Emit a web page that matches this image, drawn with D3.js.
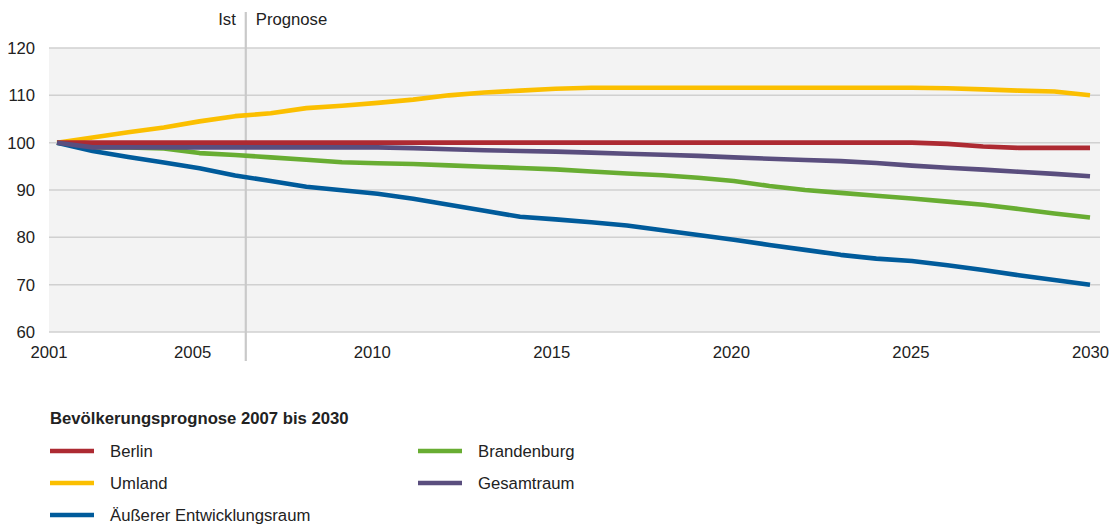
<!DOCTYPE html>
<html>
<head>
<meta charset="utf-8">
<script src="https://cdn.jsdelivr.net/npm/d3@7"></script>
<style>
  html, body { margin: 0; padding: 0; background: #ffffff; }
  svg { display: block; font-family: "Liberation Sans", Arial, sans-serif; }
</style>
</head>
<body>
<svg id="chart" width="1111" height="525"></svg>
<script>
// ---------- data ----------
const years = d3.range(2001, 2031);
const xTickLabels = [2001, 2005, 2010, 2015, 2020, 2025, 2030];
const yTickLabels = [60, 70, 80, 90, 100, 110, 120];
const splitYear = 2006.3; // boundary between "Ist" and "Prognose"

const berlin = [100,100,100,100,100,100,100,100,100,100,100,100,100,100,100,100,100,100,100,100,100,100,100,100,100,99.75,99.2,98.9,98.9,98.9];
const umland = [100,101.1,102.2,103.2,104.5,105.6,106.2,107.3,107.8,108.4,109.1,110.0,110.6,111.0,111.4,111.6,111.6,111.6,111.6,111.6,111.6,111.6,111.6,111.6,111.6,111.5,111.25,111.0,110.8,110.0];
const aeusserer = [100,98.25,96.95,95.8,94.6,93.05,91.9,90.7,89.95,89.2,88.15,86.9,85.6,84.35,83.8,83.2,82.5,81.5,80.5,79.5,78.4,77.35,76.3,75.5,75.0,74.1,73.1,72.0,71.0,70.0];
const brandenburg = [100,99.0,99.0,98.8,97.8,97.4,96.9,96.4,95.85,95.65,95.5,95.2,94.9,94.65,94.35,93.9,93.5,93.1,92.6,91.9,90.85,90.0,89.4,88.8,88.2,87.55,86.9,86.0,85.05,84.2];
const gesamtraum = [100,99.0,99.0,99.0,99.0,99.0,99.0,99.0,99.0,99.0,98.85,98.6,98.4,98.25,98.1,97.9,97.65,97.45,97.2,96.9,96.6,96.35,96.1,95.7,95.15,94.7,94.3,93.85,93.4,92.9];

const seriesNames = ["Berlin", "Umland", "Äußerer Entwicklungsraum", "Brandenburg", "Gesamtraum"];
const seriesColors = ["#ad2a32", "#fbbf00", "#005b9b", "#68ad32", "#5a4e7e"];
const seriesValues = [berlin, umland, aeusserer, brandenburg, gesamtraum];
const legendTitle = "Bevölkerungsprognose 2007 bis 2030";

// ---------- layout ----------
const svg = d3.select("#chart");
const plot = { left: 49, right: 1100, top: 48, bottom: 332 };
const x = d3.scaleLinear().domain([2001, 2030]).range([57, 1090]);
const xLabel = d3.scaleLinear().domain([2001, 2030]).range([48.5, 1090]);
const y = d3.scaleLinear().domain([60, 120]).range([plot.bottom, plot.top]);
const textColor = "#222222";
const fs = 16.7;

// background
svg.append("rect")
  .attr("x", plot.left).attr("y", plot.top)
  .attr("width", plot.right - plot.left).attr("height", plot.bottom - plot.top)
  .attr("fill", "#f3f3f3");

// grid lines
svg.append("g").selectAll("line").data(yTickLabels).join("line")
  .attr("x1", plot.left).attr("x2", plot.right)
  .attr("y1", d => y(d)).attr("y2", d => y(d))
  .attr("stroke", "#d0d0d0").attr("stroke-width", 1.5);

// y axis labels
const yAxis = d3.axisLeft(y).tickValues(yTickLabels).tickSize(0).tickPadding(0);
const gy = svg.append("g").attr("transform", "translate(35,0)").call(yAxis);
gy.select(".domain").remove();
gy.selectAll("text").attr("font-size", fs).attr("fill", textColor)
  .attr("font-family", "Liberation Sans, Arial, sans-serif");

// x axis labels
const xAxis = d3.axisBottom(xLabel).tickValues(xTickLabels).tickFormat(d3.format("d")).tickSize(0).tickPadding(0);
const gx = svg.append("g").attr("transform", "translate(0,346)").call(xAxis);
gx.select(".domain").remove();
gx.selectAll("text").attr("font-size", fs).attr("fill", textColor)
  .attr("font-family", "Liberation Sans, Arial, sans-serif");

// Ist / Prognose divider
const xs = x(splitYear);
svg.append("line")
  .attr("x1", xs).attr("x2", xs).attr("y1", 12).attr("y2", 361)
  .attr("stroke", "#c9c9c9").attr("stroke-width", 2.2);
svg.append("text").attr("x", xs - 10).attr("y", 25).attr("text-anchor", "end")
  .attr("font-size", fs).attr("fill", textColor).text("Ist");
svg.append("text").attr("x", xs + 10).attr("y", 25).attr("text-anchor", "start")
  .attr("font-size", fs).attr("fill", textColor).text("Prognose");

// lines
const line = d3.line().x((d, i) => x(years[i])).y(d => y(d));
const drawOrder = [3, 2, 1, 0, 4];
svg.append("g").selectAll("path").data(drawOrder).join("path")
  .attr("d", i => line(seriesValues[i]))
  .attr("fill", "none")
  .attr("stroke", i => seriesColors[i])
  .attr("stroke-width", 4.6)
  .attr("stroke-linejoin", "round")
  .attr("stroke-linecap", "butt");

// legend
svg.append("text").attr("x", 50).attr("y", 424)
  .attr("font-size", fs).attr("font-weight", "bold").attr("fill", textColor)
  .text(legendTitle);

const legendPos = [
  { col: 0, row: 0 }, { col: 0, row: 1 }, { col: 0, row: 2 },
  { col: 1, row: 0 }, { col: 1, row: 1 }
];
const colX = [50, 418];
const rowY = [451, 483, 515];
const lg = svg.append("g").selectAll("g").data(seriesNames).join("g")
  .attr("transform", (d, i) => `translate(${colX[legendPos[i].col]},${rowY[legendPos[i].row]})`);
lg.append("line").attr("x1", 0).attr("x2", 44).attr("y1", 0).attr("y2", 0)
  .attr("stroke", (d, i) => seriesColors[i]).attr("stroke-width", 4.5);
lg.append("text").attr("x", 60).attr("y", 6)
  .attr("font-size", fs).attr("fill", textColor).text(d => d);
</script>
</body>
</html>
